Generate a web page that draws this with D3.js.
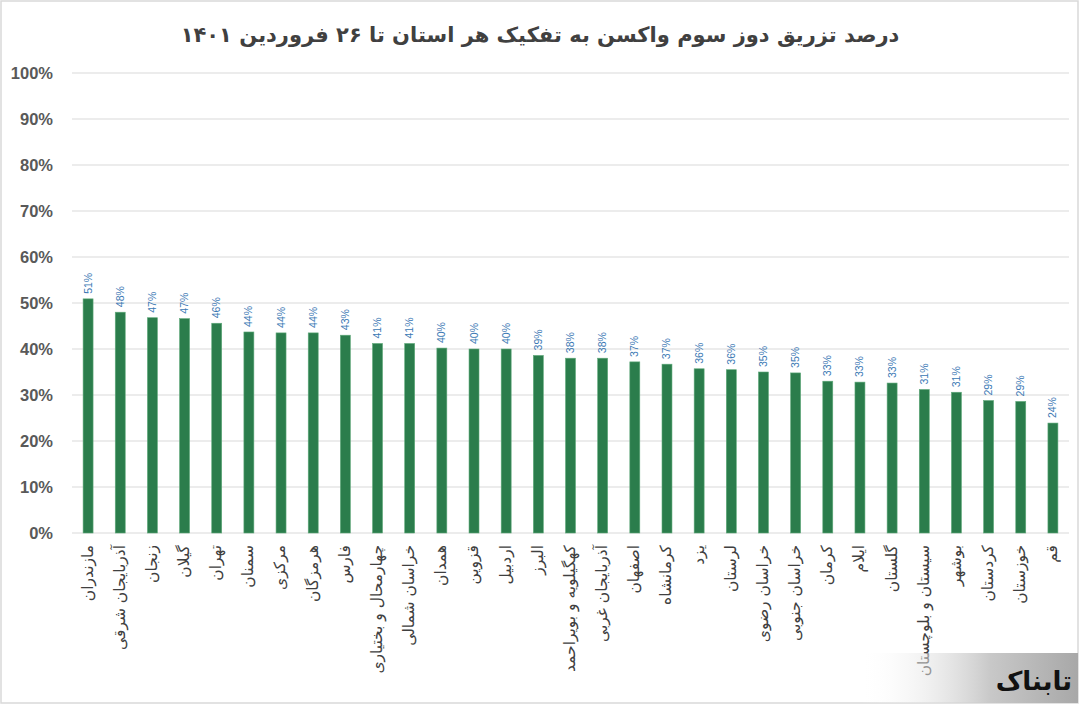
<!DOCTYPE html>
<html><head><meta charset="utf-8">
<script src="https://cdn.jsdelivr.net/npm/d3@7/dist/d3.min.js"></script>
<style>
html,body{margin:0;padding:0;background:#fff;}
svg{display:block;}
</style></head>
<body>
<svg id="chart" width="1080" height="705"></svg>
<script>
const title = "درصد تزریق دوز سوم واکسن به تفکیک هر استان  تا ۲۶ فروردین ۱۴۰۱";
const provinces = ["مازندران","آذربایجان شرقی","زنجان","گیلان","تهران","سمنان","مرکزی","هرمزگان","فارس","چهارمحال و بختیاری","خراسان شمالی","همدان","قزوین","اردبیل","البرز","کهگیلویه و بویراحمد","آذربایجان غربی","اصفهان","کرمانشاه","یزد","لرستان","خراسان رضوی","خراسان جنوبی","کرمان","ایلام","گلستان","سیستان و بلوچستان","بوشهر","کردستان","خوزستان","قم"];
const values = [50.9,48.0,46.8,46.6,45.6,43.7,43.5,43.5,43.0,41.2,41.2,40.2,40.0,40.0,38.6,38.0,38.0,37.2,36.7,35.7,35.5,35.0,34.8,33.0,32.8,32.6,31.2,30.6,28.8,28.6,23.9];
const yTicks = [0,10,20,30,40,50,60,70,80,90,100];

const svg = d3.select("#chart");
const W = 1080, H = 705;
const m = {left:72, right:11, top:73, bottom:172};

svg.append("rect").attr("x",1).attr("y",1).attr("width",W-3).attr("height",H-3)
  .attr("fill","#fff").attr("stroke","#d9d9d9").attr("stroke-width",1.5);

const x = d3.scaleBand().domain(provinces).range([m.left, W-m.right]).paddingInner(0.69).paddingOuter(0.345);
const y = d3.scaleLinear().domain([0,100]).range([H-m.bottom, m.top]);

// gridlines
svg.append("g").selectAll("line").data(yTicks).join("line")
  .attr("x1", m.left).attr("x2", W-m.right)
  .attr("y1", d=>y(d)).attr("y2", d=>y(d))
  .attr("stroke","#d9d9d9").attr("stroke-width",1);

// y axis labels
const yAxis = d3.axisLeft(y).tickValues(yTicks).tickFormat(d=>d+"%").tickSize(0).tickPadding(0);
const gy = svg.append("g").attr("transform",`translate(53,0)`).call(yAxis);
gy.select(".domain").remove();
gy.selectAll("text").attr("font-family","Liberation Sans, Arial, sans-serif")
  .attr("font-size",16.5).attr("font-weight","bold").attr("fill","#595959").attr("dy","0.35em");

// bars
svg.append("g").selectAll("rect").data(values).join("rect")
  .attr("x",(d,i)=>x(provinces[i])).attr("width",x.bandwidth())
  .attr("y",d=>y(d)).attr("height",d=>y(0)-y(d))
  .attr("fill","#2b7d4c").attr("stroke","#5fa97a").attr("stroke-width",0.6);

// data labels
svg.append("g").selectAll("text").data(values).join("text")
  .attr("transform",(d,i)=>`translate(${x(provinces[i])+x.bandwidth()/2+3.5},${y(d)-5}) rotate(-90)`)
  .attr("text-anchor","start")
  .attr("font-family","Liberation Sans, Arial, sans-serif").attr("font-size",10.5)
  .attr("fill","#3a78b4")
  .text(d=>Math.round(d)+"%");

// x axis category labels
const xAxis = d3.axisBottom(x).tickSize(0).tickPadding(0);
const gx = svg.append("g").attr("transform",`translate(0,${y(0)})`).call(xAxis);
gx.select(".domain").remove();
gx.selectAll("text")
  .attr("transform","translate(-1,12) rotate(-90)")
  .attr("text-anchor","end").attr("dy","0.35em").attr("x",0).attr("y",0)
  .attr("font-family","DejaVu Sans, Noto Sans, sans-serif").attr("font-size",15.5)
  .attr("fill","#404040");

// title
svg.append("text").attr("x",540).attr("y",42).attr("text-anchor","middle")
  .attr("font-family","DejaVu Sans, Noto Sans, sans-serif").attr("font-size",21).attr("font-weight","bold")
  .attr("fill","#404040").text(title);

// watermark
const defs = svg.append("defs");
const lg = defs.append("linearGradient").attr("id","wm").attr("x1","0").attr("x2","1");
lg.append("stop").attr("offset","0").attr("stop-color","#ffffff").attr("stop-opacity",0);
lg.append("stop").attr("offset","0.6").attr("stop-color","#c8c8c8");
lg.append("stop").attr("offset","1").attr("stop-color","#a8a8a8");
svg.append("rect").attr("x",860).attr("y",653).attr("width",218).attr("height",50).attr("fill","url(#wm)");
svg.append("text").attr("x",1072).attr("y",690).attr("text-anchor","end")
  .attr("font-family","DejaVu Sans, sans-serif").attr("font-size",26).attr("font-weight","bold")
  .attr("fill","#111").text("تابناک");
</script>
</body></html>
